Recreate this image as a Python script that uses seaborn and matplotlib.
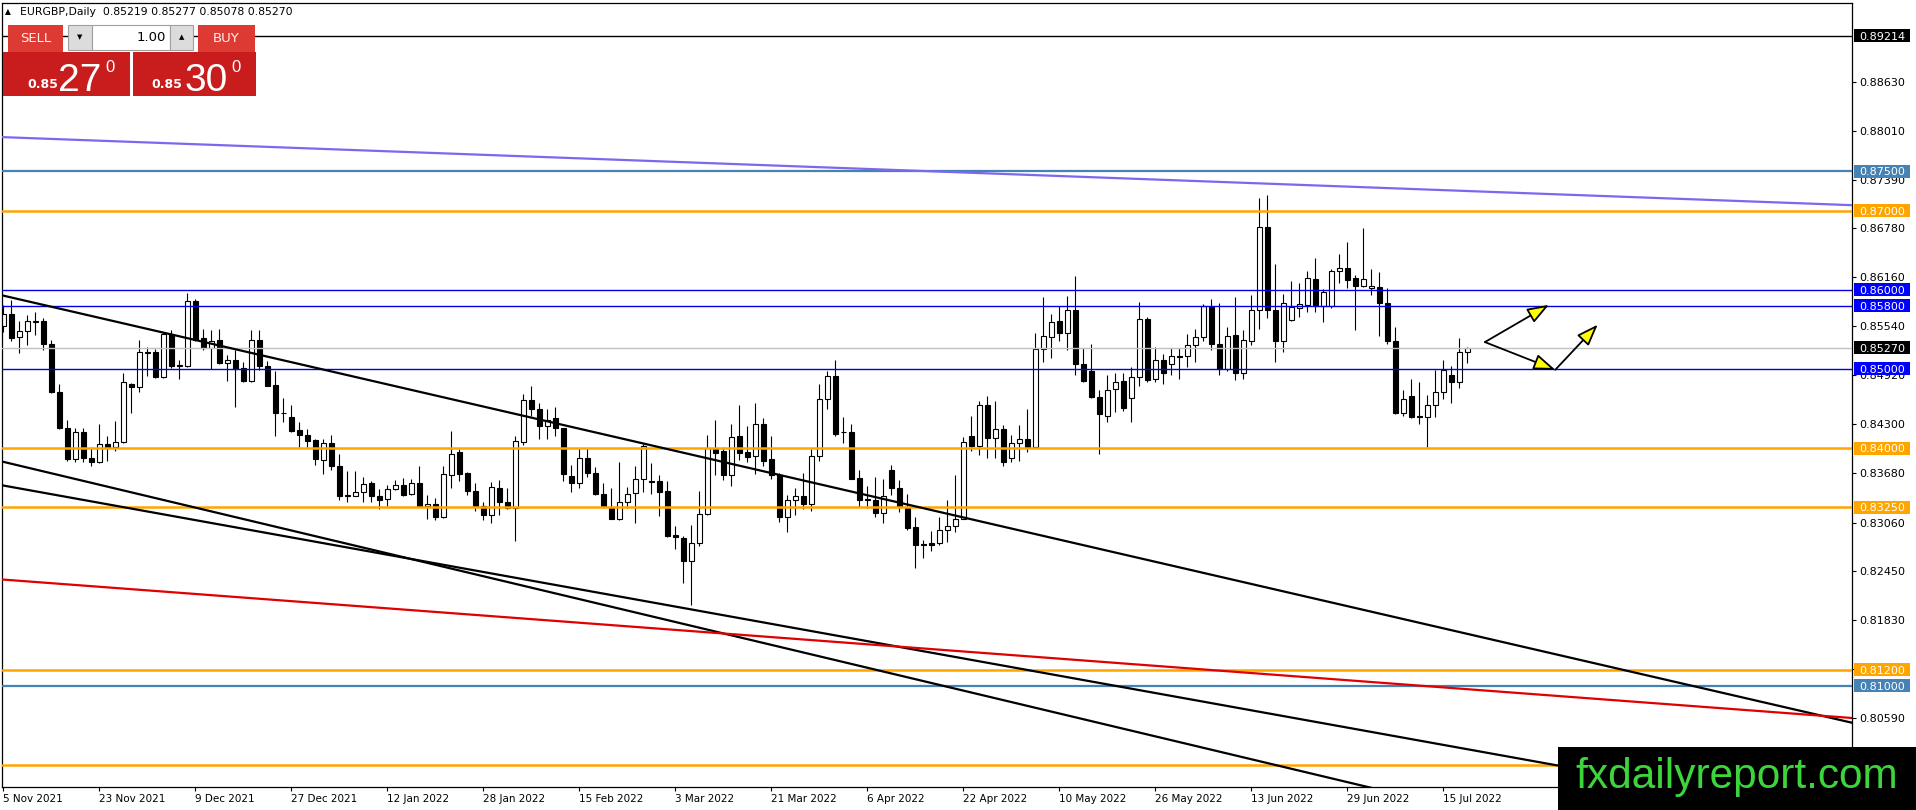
import matplotlib
matplotlib.use("Agg")
import matplotlib.pyplot as plt
import matplotlib.patches as mpatches
import numpy as np
import pandas as pd
import seaborn as sns

# daily EURGBP candles (bar 0 = 5 Nov 2021)
opens = [
    0.8554, 0.8569, 0.8540, 0.8548, 0.8560, 0.8561, 0.8531, 0.8471, 0.8425, 0.8386,
    0.8421, 0.8388, 0.8382, 0.8405, 0.8402, 0.8408, 0.8481, 0.8477, 0.8520, 0.8521,
    0.8490, 0.8544, 0.8505, 0.8504, 0.8586, 0.8539, 0.8527, 0.8537, 0.8507, 0.8512,
    0.8501, 0.8485, 0.8537, 0.8504, 0.8480, 0.8445, 0.8439, 0.8423, 0.8417, 0.8410,
    0.8385, 0.8406, 0.8377, 0.8341, 0.8340, 0.8345, 0.8356, 0.8340, 0.8336, 0.8348,
    0.8353, 0.8342, 0.8356, 0.8327, 0.8330, 0.8313, 0.8366, 0.8395, 0.8368, 0.8346,
    0.8327, 0.8316, 0.8350, 0.8332, 0.8324, 0.8408, 0.8461, 0.8449, 0.8428, 0.8438,
    0.8425, 0.8365, 0.8356, 0.8387, 0.8368, 0.8342, 0.8325, 0.8311, 0.8332, 0.8343,
    0.8361, 0.8359, 0.8359, 0.8346, 0.8290, 0.8287, 0.8257, 0.8280, 0.8317, 0.8399,
    0.8396, 0.8366, 0.8415, 0.8395, 0.8390, 0.8431, 0.8386, 0.8366, 0.8313, 0.8334,
    0.8340, 0.8329, 0.8390, 0.8462, 0.8491, 0.8421, 0.8421, 0.8362, 0.8336, 0.8335,
    0.8318, 0.8373, 0.8349, 0.8326, 0.8300, 0.8279, 0.8280, 0.8280, 0.8297, 0.8302,
    0.8311, 0.8415, 0.8403, 0.8455, 0.8413, 0.8424, 0.8387, 0.8407, 0.8412, 0.8402,
    0.8525, 0.8541, 0.8561, 0.8546, 0.8575, 0.8506, 0.8498, 0.8464, 0.8441, 0.8475,
    0.8485, 0.8463, 0.8490, 0.8563, 0.8487, 0.8512, 0.8506, 0.8516, 0.8516, 0.8530,
    0.8541, 0.8578, 0.8532, 0.8500, 0.8543, 0.8495, 0.8535, 0.8575, 0.8679, 0.8575,
    0.8536, 0.8562, 0.8577, 0.8581, 0.8614, 0.8580, 0.8580, 0.8624, 0.8628, 0.8615,
    0.8605, 0.8602, 0.8603, 0.8584, 0.8535, 0.8445, 0.8466, 0.8440, 0.8439, 0.8454,
    0.8471, 0.8492, 0.8483, 0.85219,
]
highs = [
    0.8581, 0.8587, 0.8561, 0.8568, 0.8572, 0.8565, 0.8537, 0.8481, 0.8436, 0.8425,
    0.8425, 0.8402, 0.8431, 0.8415, 0.8434, 0.8495, 0.8482, 0.8537, 0.8528, 0.8525,
    0.8547, 0.8549, 0.8511, 0.8596, 0.8588, 0.8551, 0.8549, 0.8551, 0.8518, 0.8524,
    0.8509, 0.8549, 0.8549, 0.8510, 0.8497, 0.8463, 0.8455, 0.8433, 0.8424, 0.8412,
    0.8412, 0.8417, 0.8393, 0.8371, 0.8371, 0.8364, 0.8358, 0.8348, 0.8354, 0.8360,
    0.8362, 0.8361, 0.8377, 0.8341, 0.8337, 0.8377, 0.8422, 0.8399, 0.8370, 0.8356,
    0.8332, 0.8357, 0.8360, 0.8349, 0.8415, 0.8469, 0.8478, 0.8457, 0.8449, 0.8452,
    0.8426, 0.8379, 0.8400, 0.8400, 0.8376, 0.8356, 0.8350, 0.8382, 0.8351, 0.8377,
    0.8405, 0.8381, 0.8366, 0.8358, 0.8301, 0.8289, 0.8303, 0.8346, 0.8417, 0.8435,
    0.8402, 0.8430, 0.8455, 0.8428, 0.8457, 0.8438, 0.8415, 0.8369, 0.8341, 0.8349,
    0.8368, 0.8399, 0.8481, 0.8497, 0.8511, 0.8439, 0.8430, 0.8372, 0.8352, 0.8363,
    0.8361, 0.8379, 0.8360, 0.8342, 0.8313, 0.8284, 0.8295, 0.8313, 0.8334, 0.8366,
    0.8414, 0.8440, 0.8460, 0.8466, 0.8460, 0.8429, 0.8417, 0.8429, 0.8449, 0.8545,
    0.8591, 0.8569, 0.8579, 0.8592, 0.8618, 0.8526, 0.8532, 0.8473, 0.8493, 0.8495,
    0.8495, 0.8502, 0.8585, 0.8566, 0.8528, 0.8519, 0.8527, 0.8526, 0.8544, 0.8551,
    0.8582, 0.8588, 0.8583, 0.8553, 0.8591, 0.8549, 0.8594, 0.8716, 0.8720, 0.8633,
    0.8595, 0.8611, 0.8609, 0.8624, 0.8640, 0.8601, 0.8626, 0.8645, 0.8661, 0.8619,
    0.8678, 0.8626, 0.8622, 0.8602, 0.8553, 0.8474, 0.8487, 0.8484, 0.8467, 0.8499,
    0.8511, 0.8504, 0.8539, 0.85277,
]
lows = [
    0.8547, 0.8535, 0.8520, 0.8530, 0.8543, 0.8524, 0.8470, 0.8424, 0.8384, 0.8383,
    0.8383, 0.8377, 0.8381, 0.8384, 0.8396, 0.8407, 0.8445, 0.8471, 0.8491, 0.8488,
    0.8489, 0.8501, 0.8487, 0.8503, 0.8536, 0.8524, 0.8500, 0.8506, 0.8485, 0.8452,
    0.8484, 0.8483, 0.8499, 0.8478, 0.8415, 0.8433, 0.8421, 0.8402, 0.8402, 0.8379,
    0.8367, 0.8372, 0.8334, 0.8332, 0.8339, 0.8332, 0.8332, 0.8323, 0.8327, 0.8347,
    0.8340, 0.8341, 0.8326, 0.8311, 0.8309, 0.8312, 0.8350, 0.8358, 0.8341, 0.8320,
    0.8309, 0.8305, 0.8316, 0.8323, 0.8283, 0.8404, 0.8440, 0.8412, 0.8412, 0.8415,
    0.8358, 0.8345, 0.8349, 0.8364, 0.8341, 0.8324, 0.8310, 0.8309, 0.8324, 0.8305,
    0.8344, 0.8342, 0.8314, 0.8288, 0.8273, 0.8229, 0.8202, 0.8276, 0.8315, 0.8366,
    0.8360, 0.8352, 0.8385, 0.8382, 0.8367, 0.8377, 0.8361, 0.8307, 0.8294, 0.8316,
    0.8323, 0.8321, 0.8384, 0.8449, 0.8415, 0.8407, 0.8361, 0.8326, 0.8324, 0.8313,
    0.8306, 0.8341, 0.8319, 0.8297, 0.8248, 0.8261, 0.8270, 0.8277, 0.8282, 0.8294,
    0.8310, 0.8396, 0.8391, 0.8387, 0.8387, 0.8378, 0.8382, 0.8384, 0.8395, 0.8400,
    0.8509, 0.8514, 0.8535, 0.8524, 0.8492, 0.8484, 0.8463, 0.8392, 0.8433, 0.8446,
    0.8447, 0.8433, 0.8479, 0.8483, 0.8484, 0.8481, 0.8493, 0.8487, 0.8502, 0.8509,
    0.8535, 0.8524, 0.8492, 0.8497, 0.8486, 0.8487, 0.8530, 0.8551, 0.8564, 0.8509,
    0.8521, 0.8561, 0.8566, 0.8572, 0.8572, 0.8560, 0.8577, 0.8609, 0.8602, 0.8549,
    0.8603, 0.8594, 0.8542, 0.8532, 0.8443, 0.8440, 0.8438, 0.8431, 0.8402, 0.8439,
    0.8462, 0.8457, 0.8476, 0.85078,
]
closes = [
    0.8569, 0.8539, 0.8548, 0.8561, 0.8561, 0.8531, 0.8471, 0.8425, 0.8386, 0.8421,
    0.8387, 0.8382, 0.8405, 0.8402, 0.8408, 0.8483, 0.8477, 0.8521, 0.8521, 0.8490,
    0.8544, 0.8504, 0.8504, 0.8586, 0.8537, 0.8527, 0.8536, 0.8507, 0.8512, 0.8500,
    0.8485, 0.8537, 0.8504, 0.8479, 0.8444, 0.8444, 0.8422, 0.8417, 0.8409, 0.8386,
    0.8406, 0.8377, 0.8339, 0.8339, 0.8345, 0.8355, 0.8339, 0.8335, 0.8348, 0.8353,
    0.8341, 0.8356, 0.8327, 0.8330, 0.8313, 0.8367, 0.8393, 0.8367, 0.8346, 0.8327,
    0.8316, 0.8351, 0.8332, 0.8324, 0.8409, 0.8461, 0.8449, 0.8428, 0.8436, 0.8425,
    0.8367, 0.8356, 0.8387, 0.8368, 0.8342, 0.8326, 0.8311, 0.8332, 0.8342, 0.8361,
    0.8403, 0.8357, 0.8345, 0.8289, 0.8288, 0.8257, 0.8280, 0.8317, 0.8400, 0.8394,
    0.8366, 0.8414, 0.8394, 0.8389, 0.8431, 0.8384, 0.8366, 0.8313, 0.8334, 0.8339,
    0.8329, 0.8390, 0.8462, 0.8491, 0.8418, 0.8420, 0.8361, 0.8335, 0.8334, 0.8318,
    0.8339, 0.8349, 0.8326, 0.8299, 0.8278, 0.8278, 0.8278, 0.8297, 0.8302, 0.8311,
    0.8408, 0.8403, 0.8455, 0.8413, 0.8424, 0.8382, 0.8407, 0.8412, 0.8402, 0.8525,
    0.8542, 0.8560, 0.8546, 0.8575, 0.8506, 0.8485, 0.8464, 0.8443, 0.8474, 0.8483,
    0.8451, 0.8490, 0.8563, 0.8486, 0.8512, 0.8495, 0.8516, 0.8515, 0.8530, 0.8541,
    0.8580, 0.8532, 0.8500, 0.8542, 0.8495, 0.8537, 0.8575, 0.8679, 0.8575, 0.8536,
    0.8583, 0.8578, 0.8582, 0.8615, 0.8581, 0.8597, 0.8624, 0.8628, 0.8613, 0.8605,
    0.8614, 0.8605, 0.8584, 0.8535, 0.8445, 0.8462, 0.8439, 0.8439, 0.8454, 0.8471,
    0.8499, 0.8483, 0.8521, 0.85270,
]

# horizontal levels drawn on the chart
level_prices = [0.89214, 0.87500, 0.87000, 0.86000, 0.85800, 0.85270, 0.85000,
                0.84000, 0.83250, 0.81200, 0.81000, 0.80000]
level_colors = ["black", "#4682b4", "#ffa500", "#0000e6", "#0000e6", "#c0c0c0", "#0000e6",
                "#ffa500", "#ffa500", "#ffa500", "#4682b4", "#ffa500"]
label_colors = ["black", "#4682b4", "#ffa500", "#0000ff", "#0000ff", "black", "#0000ff",
                "#ffa500", "#ffa500", "#ffa500", "#4682b4", None]  # last one hidden by logo
level_widths = [1.0, 1.6, 1.8, 1.0, 1.0, 1.0, 1.0, 1.8, 1.8, 1.8, 1.6, 1.8]

# right axis scale labels
price_ticks = [0.88630, 0.88010, 0.87390, 0.86780, 0.86160, 0.85540, 0.84920,
               0.84300, 0.83680, 0.83060, 0.82450, 0.81830, 0.81210, 0.80590]

# trend lines: price at left edge / right edge of the chart
line_x = [-0.125, 231.1]
slate_line = [0.8793, 0.8707]
channel_top = [0.8593, 0.8053]
channel_steep = [0.8383, 0.7826]
channel_low = [0.8353, 0.7932]
red_line = [0.8234, 0.8059]

# hand drawn scenario arrows (bar index, price)
arrow_start = (185.2, 0.8534)
arrow_up_end = (193.2, 0.8581)
arrow_dip = (194.0, 0.8499)
arrow_rebound = (199.3, 0.8556)

sns.set_style("white")
plt.rcParams["font.family"] = ["DejaVu Sans"]

W, H = 1916, 810
fig = plt.figure(figsize=(W / 100, H / 100), dpi=100)
ax = fig.add_axes([2.3 / W, 1 - 787 / H, (1852 - 2.3) / W, (787 - 3) / H])

df = pd.DataFrame({"bar": np.arange(len(opens)), "open": opens, "high": highs,
                   "low": lows, "close": closes})
df["top"] = df[["open", "close"]].max(axis=1)
df["bottom"] = df[["open", "close"]].min(axis=1)
df["side"] = np.where(df["close"] >= df["open"], "up", "down")
dates = pd.bdate_range("2021-11-05", periods=len(df))

ax.vlines(df["bar"], df["low"], df["high"], color="black", linewidth=0.8, zorder=1.5)
sns.barplot(data=df, x="bar", y="top", hue="side",
            palette={"up": "white", "down": "black"},
            native_scale=True, dodge=False, width=0.56, errorbar=None, legend=False,
            edgecolor="black", linewidth=0.8, zorder=2, ax=ax)

# turn the bars into floating candle bodies
tops = df.set_index("bar")["top"]
bottoms = df.set_index("bar")["bottom"]
for p in list(ax.patches):
    i = int(round(p.get_x() + p.get_width() / 2))
    p.set_y(bottoms[i])
    p.set_height(max(tops[i] - bottoms[i], 0.00001))

ymin, ymax = 0.797182, 0.896247
ax.set_xlim(line_x[0], 231.09)
ax.set_ylim(ymin, ymax)

for price, col, lw in zip(level_prices, level_colors, level_widths):
    ax.axhline(price, color=col, linewidth=lw, zorder=3)

for vals, col in [(slate_line, "#7b68ee"), (channel_top, "black"), (channel_steep, "black"),
                  (channel_low, "black"), (red_line, "#e00000")]:
    ax.plot(line_x, vals, color=col, linewidth=1.6, zorder=3.2)

arrow_kw = dict(arrowstyle="-|>,head_length=0.6,head_width=0.22", mutation_scale=22,
                fc="yellow", ec="black", lw=1.3, shrinkA=0, shrinkB=0)
for a, b in [(arrow_start, arrow_up_end), (arrow_start, arrow_dip), (arrow_dip, arrow_rebound)]:
    ax.annotate("", xy=b, xytext=a, arrowprops=arrow_kw, zorder=5, annotation_clip=False)

# axes / ticks
for s in ax.spines.values():
    s.set_color("black")
    s.set_linewidth(0.9)
ax.set_xlabel("")
ax.set_ylabel("")
ax.yaxis.tick_right()
ax.set_yticks(price_ticks)
ax.set_yticklabels([f"{v:.5f}" for v in price_ticks])
ax.tick_params(axis="y", right=True, left=False, labelright=True, labelleft=False,
               length=3, width=0.8, pad=2, labelsize=8, colors="black", direction="out")
tick_pos = list(range(0, len(df), 12))
ax.set_xticks(tick_pos)
ax.set_xticklabels([f"{dates[i].day} {dates[i].strftime('%b %Y')}" for i in tick_pos],
                   ha="left")
ax.tick_params(axis="x", bottom=True, length=3, width=0.8, pad=2, labelsize=7.5,
               colors="black", direction="out")

# price labels on the right scale
ytr = ax.get_yaxis_transform()
px_w = 1852 - 2.3
px_per_price = (787 - 3) / (ymax - ymin)
bw, bh = 56 / px_w, 13 / px_per_price
for price, col in zip(level_prices, label_colors):
    if col is None:
        continue
    ax.add_patch(mpatches.Rectangle((1 + 2 / px_w, price - bh / 2), bw, bh, transform=ytr,
                                    facecolor=col, edgecolor="none", clip_on=False, zorder=10))
    ax.text(1 + 30 / px_w, price, f"{price:.5f}", transform=ytr, ha="center",
            va="center_baseline", color="white", fontsize=8, zorder=11, clip_on=False)


def px_box(x0, y0, x1, y1, **kw):
    fig.add_artist(mpatches.Rectangle((x0 / W, 1 - y1 / H), (x1 - x0) / W, (y1 - y0) / H,
                                      transform=fig.transFigure, **kw))


def px_text(x, y, s, **kw):
    fig.text(x / W, 1 - y / H, s, **kw)


# header + one click trading panel
px_text(5, 12, "\u25b2", fontsize=5.5, va="center", color="black")
px_text(20, 12, "EURGBP,Daily  0.85219 0.85277 0.85078 0.85270", fontsize=7.8,
        va="center", color="black")
px_box(3, 52, 130, 96, facecolor="#c91c1c", edgecolor="none", zorder=2)
px_box(133, 52, 256, 96, facecolor="#c91c1c", edgecolor="none", zorder=2)
px_box(8, 25, 63, 52, facecolor="#dc3a32", edgecolor="none", zorder=2)
px_box(198, 25, 255, 52, facecolor="#dc3a32", edgecolor="none", zorder=2)
px_box(68, 25, 92, 50, facecolor="#dcdcdc", edgecolor="#a0a0a0", linewidth=0.8, zorder=2)
px_box(92, 25, 170, 50, facecolor="white", edgecolor="#a0a0a0", linewidth=0.8, zorder=2)
px_box(170, 25, 193, 50, facecolor="#dcdcdc", edgecolor="#a0a0a0", linewidth=0.8, zorder=2)
px_text(35.5, 38.5, "SELL", fontsize=9.5, color="#fff0f0", ha="center", va="center", zorder=3)
px_text(226.5, 38.5, "BUY", fontsize=9.5, color="#fff0f0", ha="center", va="center", zorder=3)
px_text(80, 37.5, "\u25bc", fontsize=5, color="black", ha="center", va="center", zorder=3)
px_text(181.5, 37.5, "\u25b2", fontsize=5, color="black", ha="center", va="center", zorder=3)
px_text(166, 37.5, "1.00", fontsize=9.5, color="black", ha="right", va="center", zorder=3)
for x_small, x_big, x_sup, big in [(27, 58, 105, "27"), (151, 185, 231, "30")]:
    px_text(x_small, 88, "0.85", fontsize=9, fontweight="bold", color="white",
            va="baseline", zorder=3)
    px_text(x_big, 91, big, fontsize=28, family="Liberation Sans", color="white",
            va="baseline", zorder=3)
    px_text(x_sup, 72, "0", fontsize=12, family="Liberation Sans", color="white",
            va="baseline", zorder=3)

# watermark
px_box(1558, 747, 1916, 810, facecolor="black", edgecolor="none", zorder=20)
px_text(1575, 788, "fxdailyreport.com", fontsize=30.5, family="Liberation Sans",
        color="#3cd63c", va="baseline", zorder=21)

fig.savefig("out.png", dpi=100)
